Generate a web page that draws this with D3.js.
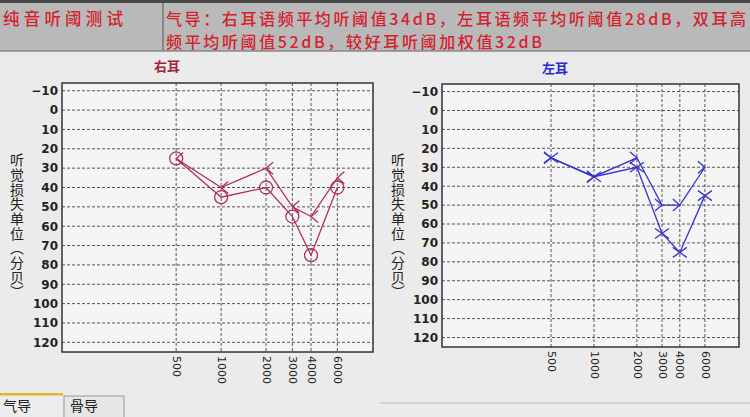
<!DOCTYPE html>
<html><head><meta charset="utf-8">
<script src="https://cdn.jsdelivr.net/npm/d3@7"></script>
<style>
html,body{margin:0;padding:0;background:#ebebeb;}
svg{display:block;font-family:"Noto Sans CJK SC","Noto Sans",sans-serif;}
</style></head>
<body><svg id="c" width="750" height="417"></svg>
<script>
// ---- data ----
const freqs = [500, 1000, 2000, 3000, 4000, 6000];
const freqLabels = ["500", "1000", "2000", "3000", "4000", "6000"];
const dbTicks = [-10, 0, 10, 20, 30, 40, 50, 60, 70, 80, 90, 100, 110, 120];
const rightEarAir = [25, 45, 40, 55, 75, 40];      // O
const rightEarBone = [25, 40, 30, 50, 55, 35];     // <
const leftEarBone = [25, 35, 25, 50, 50, 30];      // >
const leftEarAir = [25, 35, 30, 65, 75, 45];       // X
const yTitle = "听觉损失单位（分贝）";
const headerLeft = "纯音听阈测试";
const headerLine1 = "气导：右耳语频平均听阈值34dB，左耳语频平均听阈值28dB，双耳高";
const headerLine2 = "频平均听阈值52dB，较好耳听阈加权值32dB";
const tabs = ["气导", "骨导"];

const svg = d3.select("#c");
const RED = "#d4222f";

// ---- header ----
svg.append("rect").attr("x", 0).attr("y", 0).attr("width", 750).attr("height", 51).attr("fill", "#b9b9b9");
svg.append("rect").attr("x", 0).attr("y", 0).attr("width", 750).attr("height", 3).attr("fill", "#4a4a4a");
svg.append("line").attr("x1", 163).attr("x2", 163).attr("y1", 3).attr("y2", 51).attr("stroke", "#777").attr("stroke-width", 1.5);
svg.append("line").attr("x1", 0).attr("x2", 750).attr("y1", 51).attr("y2", 51).attr("stroke", "#888").attr("stroke-width", 1.5);
svg.append("text").attr("x", 3).attr("y", 25).attr("fill", RED).attr("font-size", 16.5).attr("font-weight", 500)
  .attr("textLength", 120).attr("lengthAdjust", "spacing").text(headerLeft);
svg.append("text").attr("x", 166).attr("y", 24.5).attr("fill", RED).attr("font-size", 16).attr("font-weight", 500)
  .attr("textLength", 580).attr("lengthAdjust", "spacing").text(headerLine1);
svg.append("text").attr("x", 166).attr("y", 48).attr("fill", RED).attr("font-size", 16).attr("font-weight", 500)
  .attr("textLength", 376).attr("lengthAdjust", "spacing").text(headerLine2);

// ---- panels ----
const panels = [
  {title: "右耳", titleColor: "#a8203a", titleX: 167, titleY: 71, x0: 62, x1: 373, y0: 83, y1: 352, yTitleX: 17,
   series: [
     {values: rightEarAir, color: "#b0305a", marker: "circle"},
     {values: rightEarBone, color: "#b0305a", marker: "lt"}
   ]},
  {title: "左耳", titleColor: "#2a2ad0", titleX: 555, titleY: 73, x0: 442, x1: 739, y0: 84, y1: 347, yTitleX: 398,
   series: [
     {values: leftEarBone, color: "#3434cc", marker: "gt"},
     {values: leftEarAir, color: "#3434cc", marker: "x"}
   ]}
];

panels.forEach(p => {
  const g = svg.append("g");
  const x = d3.scaleLog().domain([86, 10400]).range([p.x0, p.x1]);
  const y = d3.scaleLinear().domain([-14, 125]).range([p.y0, p.y1]);

  g.append("rect").attr("x", p.x0).attr("y", p.y0).attr("width", p.x1 - p.x0).attr("height", p.y1 - p.y0)
    .attr("fill", "#f5f5f5");

  // grid
  g.selectAll(".hg").data(dbTicks).join("line")
    .attr("x1", p.x0).attr("x2", p.x1).attr("y1", d => y(d)).attr("y2", d => y(d))
    .attr("stroke", "#555").attr("stroke-width", 1).attr("stroke-dasharray", "3,2");
  g.selectAll(".vg").data(freqs).join("line")
    .attr("x1", d => x(d)).attr("x2", d => x(d)).attr("y1", p.y0).attr("y2", p.y1)
    .attr("stroke", "#555").attr("stroke-width", 1).attr("stroke-dasharray", "3,2");

  g.append("rect").attr("x", p.x0).attr("y", p.y0).attr("width", p.x1 - p.x0).attr("height", p.y1 - p.y0)
    .attr("fill", "none").attr("stroke", "#333").attr("stroke-width", 1.5);

  // y axis labels
  const ya = d3.axisLeft(y).tickValues(dbTicks).tickSize(0).tickPadding(4);
  const yg = g.append("g").attr("transform", `translate(${p.x0},0)`).call(ya);
  yg.select(".domain").remove();
  yg.selectAll("text").attr("font-size", 12).attr("font-weight", "bold").attr("fill", "#222")
    .attr("font-family", "'DejaVu Sans',sans-serif");

  // x axis labels (rotated)
  const xa = d3.axisBottom(x).tickValues(freqs).tickFormat((d, i) => freqLabels[i]).tickSize(0);
  const xg = g.append("g").attr("transform", `translate(0,${p.y1})`).call(xa);
  xg.select(".domain").remove();
  xg.selectAll("text").attr("font-size", 11).attr("fill", "#222")
    .attr("font-family", "'DejaVu Sans',sans-serif")
    .attr("text-anchor", "start").attr("transform", "rotate(90)")
    .attr("x", 4).attr("y", 0).attr("dy", "0.35em");

  // title
  g.append("text").attr("x", p.titleX).attr("y", p.titleY).attr("text-anchor", "middle")
    .attr("font-size", 13).attr("font-weight", "bold").attr("fill", p.titleColor).text(p.title);

  // y title (vertical text)
  g.append("text").attr("x", p.yTitleX).attr("y", 153)
    .style("writing-mode", "vertical-rl").attr("text-anchor", "start")
    .attr("textLength", 146).attr("lengthAdjust", "spacing")
    .attr("font-size", 14).attr("fill", "#222").text(yTitle);

  // series
  p.series.forEach(s => {
    const pts = s.values.map((v, i) => [x(freqs[i]), y(v)]);
    g.append("path").attr("d", d3.line()(pts)).attr("fill", "none")
      .attr("stroke", s.color).attr("stroke-width", 1.3);
    pts.forEach(([px, py]) => {
      if (s.marker === "circle") {
        g.append("circle").attr("cx", px).attr("cy", py).attr("r", 6.5)
          .attr("fill", "none").attr("stroke", s.color).attr("stroke-width", 1.3);
      } else {
        let d;
        if (s.marker === "x") d = `M${px-7},${py-5}L${px+7},${py+5}M${px-7},${py+5}L${px+7},${py-5}`;
        else if (s.marker === "lt") d = `M${px+7},${py-6}L${px},${py}L${px+7},${py+6}`;
        else d = `M${px-7},${py-6}L${px},${py}L${px-7},${py+6}`;
        g.append("path").attr("d", d).attr("fill", "none").attr("stroke", s.color).attr("stroke-width", 1.3);
      }
    });
  });
});

// ---- bottom tabs ----
svg.append("line").attr("x1", 380).attr("x2", 750).attr("y1", 403).attr("y2", 403).attr("stroke", "#bbb");
svg.append("rect").attr("x", 0).attr("y", 394).attr("width", 63).attr("height", 24).attr("fill", "#ececec");
svg.append("rect").attr("x", 0).attr("y", 393).attr("width", 63).attr("height", 2.5).attr("fill", "#e8b030");
svg.append("rect").attr("x", 64).attr("y", 396).attr("width", 60).attr("height", 22).attr("fill", "#e6e6e6")
  .attr("stroke", "#9a9a9a").attr("stroke-width", 1);
svg.selectAll(".tab").data(tabs).join("text")
  .attr("x", (d, i) => i === 0 ? 3 : 70).attr("y", 411).attr("font-size", 14).attr("fill", "#222").text(d => d);
</script></body></html>
